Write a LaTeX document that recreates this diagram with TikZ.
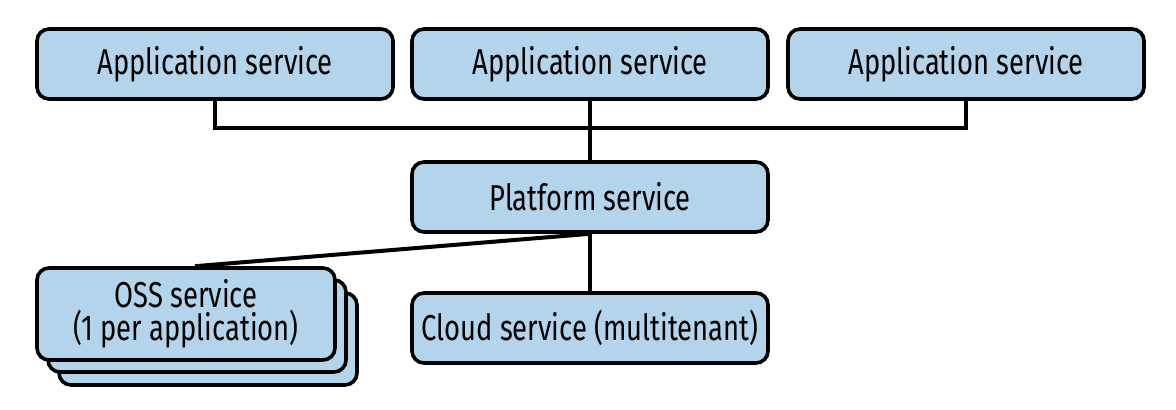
\documentclass[tikz,border=0pt]{standalone}
\usepackage{fontspec}
\setmainfont[FakeStretch=0.76]{Fira Sans}
\definecolor{svcblue}{RGB}{179,212,234}
\tikzset{
  svc/.style={draw, line width=1.8pt, rounded corners=6pt, fill=svcblue,
    minimum width=178pt, minimum height=35pt, inner sep=0pt, align=center,
    font=\fontsize{18}{16.5}\selectfont},
  ossbox/.style={svc, minimum width=149pt, minimum height=46pt},
  wire/.style={line width=2pt}
}
\begin{document}
\begin{tikzpicture}[x=0.5pt,y=0.5pt]
    \newcommand{\topy}{346}
    \newcommand{\busy}{282}
    \newcommand{\midx}{590}
    \useasboundingbox (0,0) rectangle (1176,410);

    % application services
    \node[svc] (app1) at (215,\topy) {Application service};
    \node[svc] (app2) at (\midx,\topy) {Application service};
    \node[svc] (app3) at (966,\topy) {Application service};

    % platform and cloud
    \node[svc] (plat) at (\midx,213) {Platform service};
    \node[svc] (cloud) at (\midx,82) {Cloud service (multitenant)};

    % oss stack, back to front
    \node[ossbox] (oss3) at (208,71) {};
    \node[ossbox] (oss2) at (197,84) {};
    \node[ossbox] (oss) at (186,96) {OSS service\\(1 per application)};

    % bus
    \coordinate (bus) at (\midx,\busy);
    \draw[wire] (app1.south) -- (app1.south |- bus) -- (app3.south |- bus) -- (app3.south);
    \draw[wire] (app2.south) -- (plat.north);

    % platform links
    \draw[wire] (plat.south) -- (cloud.north);
    \draw[wire] (plat.south) -- ([xshift=4.5pt]oss.north);
\end{tikzpicture}
\end{document}
